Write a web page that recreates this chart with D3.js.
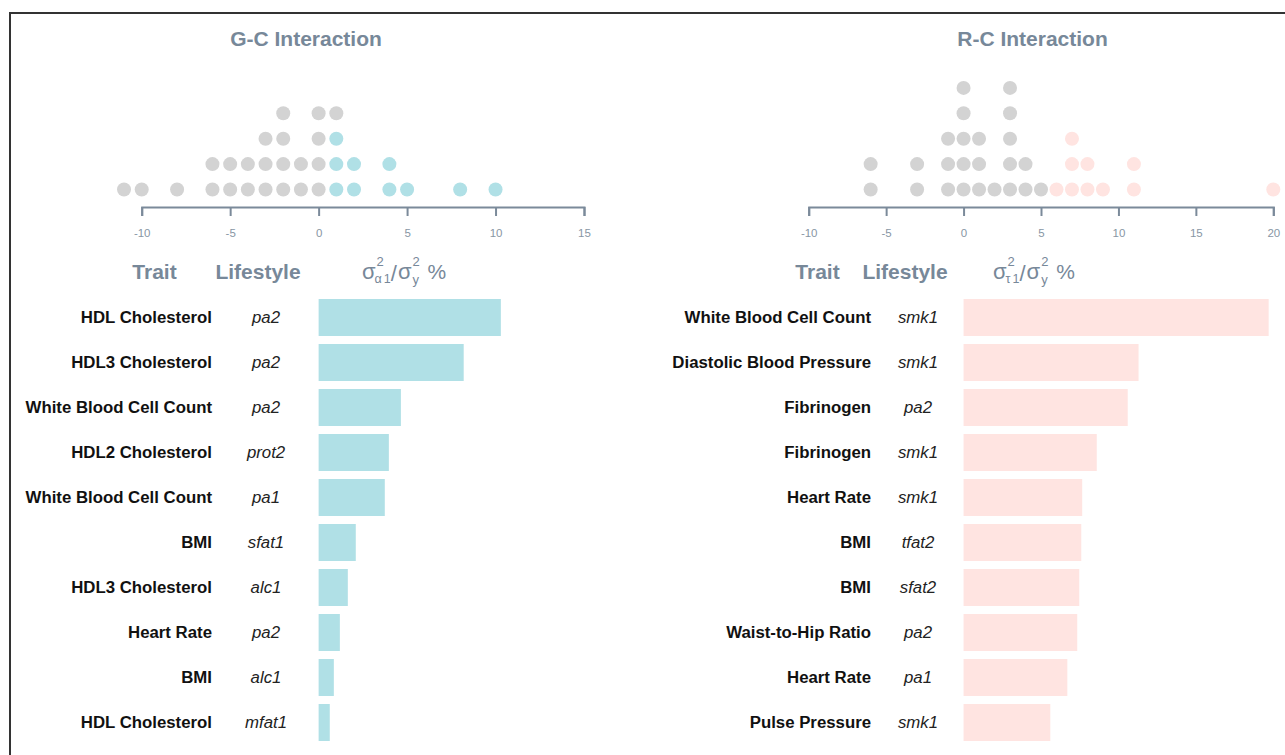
<!DOCTYPE html>
<meta charset="utf-8">

<style>
  body { margin: 0; background: white; }
  svg { display: block; font-family: "Liberation Sans", Arial, sans-serif; }
  .title { font-size: 21px; font-weight: bold; fill: #778899; text-anchor: middle; }
  .header { font-size: 21px; font-weight: bold; fill: #778899; text-anchor: middle; }
  .formula { fill: #778899; }
  .trait { font-size: 16.8px; font-weight: bold; fill: #111; text-anchor: end; }
  .life { font-size: 16.8px; font-style: italic; fill: #222; text-anchor: middle; }
  .axis path, .axis line { stroke: #7b8a9a; stroke-width: 2; }
  .axis text { fill: #8896a4; font-size: 11.5px; font-family: "Liberation Sans", Arial, sans-serif; }
</style>

<body>
  <script src="https://d3js.org/d3.v7.min.js"></script>

  <script>
    // G-C interaction: top 10 traits/lifestyles and their variance share (%)
    var gcTraits = ["HDL Cholesterol", "HDL3 Cholesterol", "White Blood Cell Count", "HDL2 Cholesterol",
                    "White Blood Cell Count", "BMI", "HDL3 Cholesterol", "Heart Rate", "BMI", "HDL Cholesterol"];
    var gcLifestyles = ["pa2", "pa2", "pa2", "prot2", "pa1", "sfat1", "alc1", "pa2", "alc1", "mfat1"];
    var gcValues = [10.3, 8.2, 4.65, 3.97, 3.74, 2.1, 1.65, 1.2, 0.86, 0.63];
    // remaining (non significant) estimates shown as grey dots
    var gcOther = [-11, -10, -8, -6, -6, -5, -5, -4, -4, -3, -3, -3, -2, -2, -2, -2, -1, -1, 0, 0, 0, 0, 1];
    var gcTicks = [-10, -5, 0, 5, 10, 15];

    // R-C interaction
    var rcTraits = ["White Blood Cell Count", "Diastolic Blood Pressure", "Fibrinogen", "Fibrinogen", "Heart Rate",
                    "BMI", "BMI", "Waist-to-Hip Ratio", "Heart Rate", "Pulse Pressure"];
    var rcLifestyles = ["smk1", "smk1", "pa2", "smk1", "smk1", "tfat2", "sfat2", "pa2", "pa1", "smk1"];
    var rcValues = [19.7, 11.3, 10.6, 8.6, 7.66, 7.6, 7.47, 7.34, 6.7, 5.6];
    var rcOther = [-6, -6, -3, -3, -1, -1, -1, 0, 0, 0, 0, 0, 1, 1, 1, 2, 3, 3, 3, 3, 3, 4, 4, 5];
    var rcTicks = [-10, -5, 0, 5, 10, 15, 20];

    var width = 1285,
        height = 755;

    var svg = d3.select("body").append("svg")
                .attr("width", width)
                .attr("height", height);

    // frame (right and bottom edges lie outside the window)
    svg.append("path")
       .attr("d", "M10,760V13H1290")
       .attr("fill", "none")
       .attr("stroke", "#333")
       .attr("stroke-width", 2);

    svg.append("clipPath").attr("id", "clipR")
       .append("rect").attr("x", 0).attr("y", 0).attr("width", 1281).attr("height", height);

    var yDot = d3.scaleLinear().domain([0, 4]).range([189.5, 87.9]);
    var yBar = d3.scaleBand().domain(d3.range(10)).range([295, 745])
                 .paddingInner(8 / 45).paddingOuter(4 / 45);

    function panel(opt) {
      var g = svg.append("g");
      if (opt.clip) g.attr("clip-path", "url(#" + opt.clip + ")");

      var x = d3.scaleLinear().domain(opt.domain).range(opt.range);

      g.append("text").attr("class", "title")
       .attr("x", opt.titleX).attr("y", 46).text(opt.title);

      // dot plot: significant estimates first, others stacked above them
      var dots = opt.values.map(function(v) { return { v: Math.round(v), c: opt.color }; })
                   .concat(opt.other.map(function(v) { return { v: v, c: "#d3d3d3" }; }));
      var counts = {};
      dots.forEach(function(d) {
        counts[d.v] = counts[d.v] || 0;
        d.k = counts[d.v]++;
      });

      g.selectAll(".dot")
       .data(dots)
       .enter().append("circle")
       .attr("class", "dot")
       .attr("cx", function(d) { return x(d.v); })
       .attr("cy", function(d) { return yDot(d.k); })
       .attr("r", 7)
       .attr("fill", function(d) { return d.c; });

      g.append("g").attr("class", "axis")
       .attr("transform", "translate(0,207)")
       .call(d3.axisBottom(x).tickValues(opt.ticks).tickSize(9).tickPadding(13)
               .tickFormat(function(d) { return String(d); }));

      // column headers
      g.append("text").attr("class", "header").attr("x", opt.traitHX).attr("y", 279).text("Trait");
      g.append("text").attr("class", "header").attr("x", opt.lifeHX).attr("y", 279).text("Lifestyle");

      var f = g.append("g").attr("class", "formula");
      var fx = opt.formulaX;
      var s1 = f.append("text").attr("x", fx).attr("y", 279).attr("font-size", 22).text("σ");
      var w = s1.node().getComputedTextLength();
      f.append("text").attr("x", fx + w + 1).attr("y", 266).attr("font-size", 13).text("2");
      var sub = f.append("text").attr("x", fx + w - 1).attr("y", 283).attr("font-size", 12.5);
      sub.append("tspan").text(opt.sub);
      sub.append("tspan").attr("dx", 2).text("1");
      fx = fx + w - 1 + sub.node().getComputedTextLength() + 2;
      var sl = f.append("text").attr("x", fx).attr("y", 281).attr("font-size", 22).text("/");
      fx += sl.node().getComputedTextLength() + 1;
      var s2 = f.append("text").attr("x", fx).attr("y", 279).attr("font-size", 22).text("σ");
      w = s2.node().getComputedTextLength();
      f.append("text").attr("x", fx + w + 1).attr("y", 266).attr("font-size", 13).text("2");
      f.append("text").attr("x", fx + w + 1).attr("y", 284).attr("font-size", 13).text("y");
      f.append("text").attr("x", fx + w + 16).attr("y", 279).attr("font-size", 21).text("%");

      // bars
      g.selectAll(".bar")
       .data(opt.values)
       .enter().append("rect")
       .attr("class", "bar")
       .attr("x", x(0))
       .attr("y", function(d, i) { return yBar(i); })
       .attr("width", function(d) { return x(d) - x(0); })
       .attr("height", yBar.bandwidth())
       .attr("fill", opt.color);

      g.selectAll(".trait")
       .data(opt.traits)
       .enter().append("text")
       .attr("class", "trait")
       .attr("x", opt.traitX)
       .attr("y", function(d, i) { return yBar(i) + yBar.bandwidth() / 2; })
       .attr("dy", "0.35em")
       .text(function(d) { return d; });

      g.selectAll(".life")
       .data(opt.lifestyles)
       .enter().append("text")
       .attr("class", "life")
       .attr("x", opt.lifeX)
       .attr("y", function(d, i) { return yBar(i) + yBar.bandwidth() / 2; })
       .attr("dy", "0.35em")
       .text(function(d) { return d; });
    }

    panel({
      title: "G-C Interaction", titleX: 306,
      domain: [-10, 15], range: [141.7, 584], ticks: gcTicks,
      values: gcValues, other: gcOther, traits: gcTraits, lifestyles: gcLifestyles,
      color: "#b0e0e6", sub: "α",
      traitHX: 154.5, lifeHX: 258, formulaX: 362,
      traitX: 212, lifeX: 266
    });

    panel({
      title: "R-C Interaction", titleX: 1032.5, clip: "clipR",
      domain: [-10, 20], range: [808.7, 1273.3], ticks: rcTicks,
      values: rcValues, other: rcOther, traits: rcTraits, lifestyles: rcLifestyles,
      color: "#ffe4e1", sub: "τ",
      traitHX: 817.5, lifeHX: 905, formulaX: 993,
      traitX: 871, lifeX: 918
    });
  </script>
</body>
